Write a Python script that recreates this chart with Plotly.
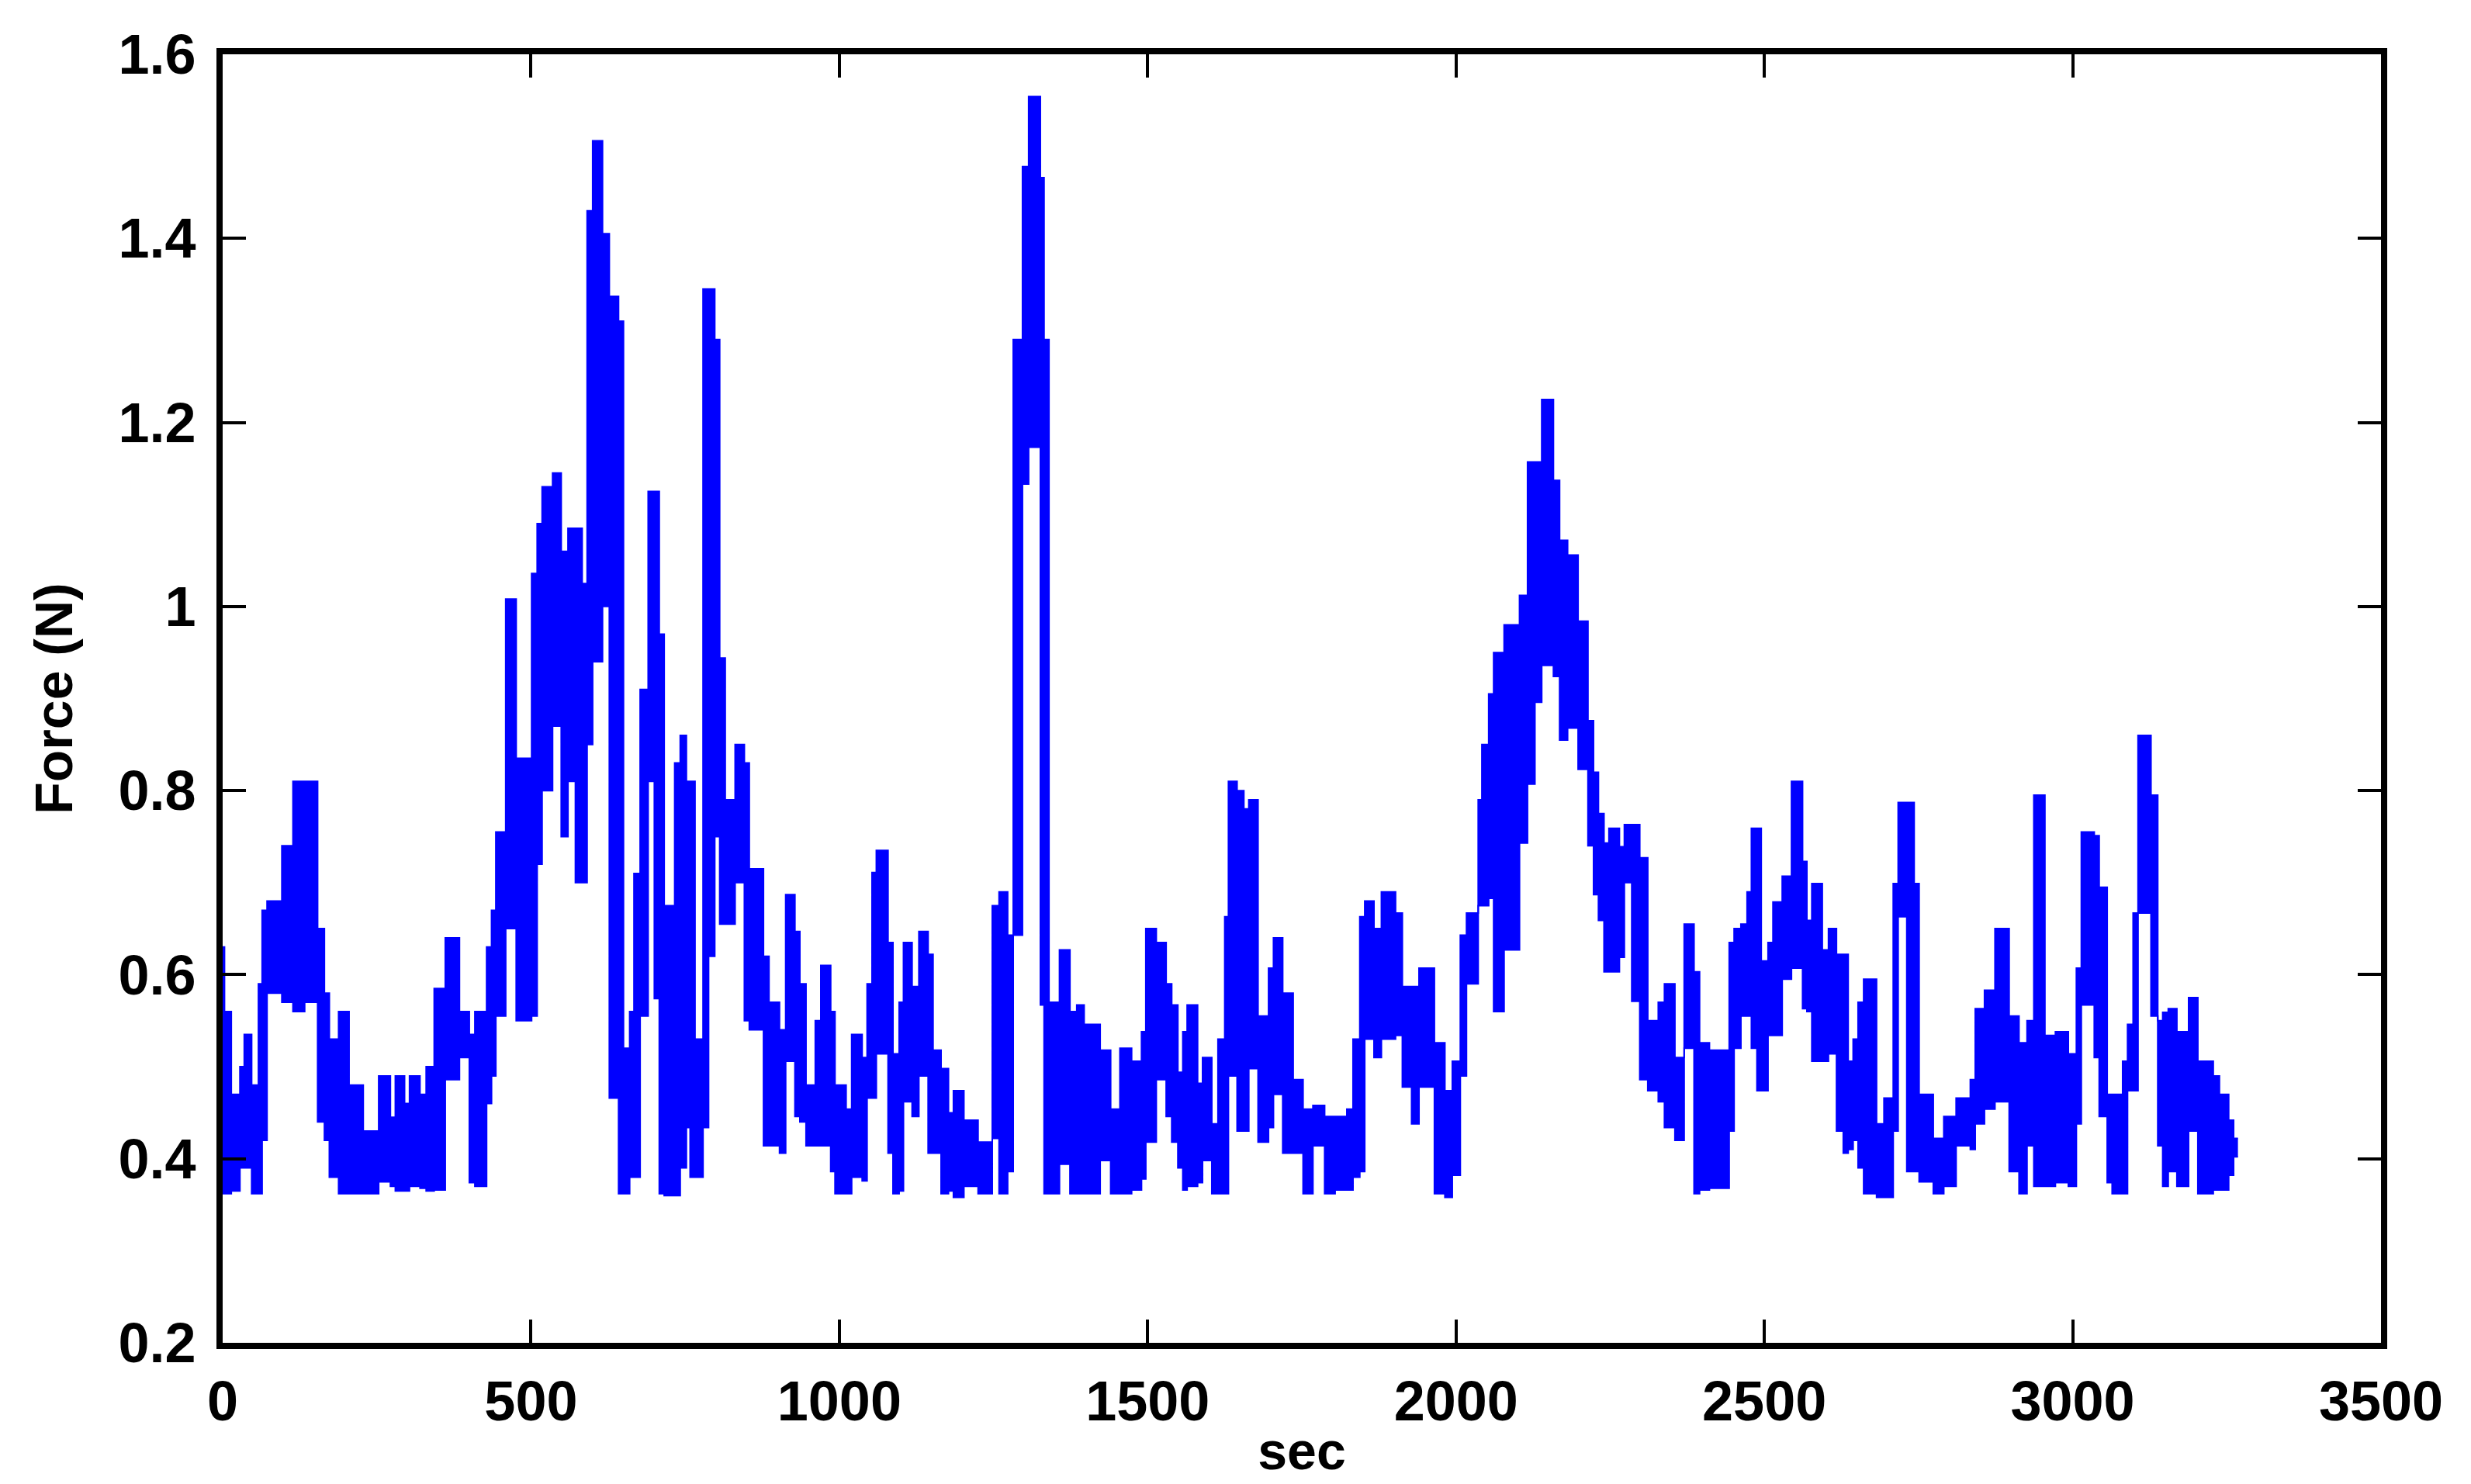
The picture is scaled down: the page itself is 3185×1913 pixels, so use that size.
import plotly.graph_objects as go

# ---- data (seconds, force envelope in N) ----
sec_start = [0, 3, 14, 28, 35, 47, 58, 64, 72, 96,
             114, 133, 154, 165, 173, 188, 205, 228, 253, 272,
             280, 295, 303, 320, 330, 343, 361, 384, 400, 409,
             428, 436, 443, 459, 476, 501, 510, 518, 535, 549,
             560, 572, 583, 591, 600, 616, 627, 642, 650, 660,
             667, 677, 690, 700, 708, 716, 733, 742, 752, 758,
             766, 779, 788, 798, 806, 815, 831, 846, 854, 877,
             886, 903, 913, 928, 936, 946, 961, 970, 986, 993,
             1011, 1020, 1037, 1045, 1053, 1060, 1079, 1087, 1097, 1104,
             1118, 1129, 1144, 1152, 1165, 1177, 1185, 1202, 1225, 1248,
             1259, 1273, 1282, 1297, 1307, 1326, 1332, 1340, 1357, 1374,
             1385, 1397, 1423, 1440, 1455, 1474, 1490, 1497, 1514, 1530,
             1539, 1549, 1557, 1564, 1581, 1589, 1604, 1614, 1625, 1631,
             1645, 1656, 1664, 1679, 1696, 1704, 1719, 1736, 1752, 1768,
             1787, 1804, 1823, 1833, 1844, 1852, 1867, 1879, 1902, 1913,
             1928, 1940, 1965, 1982, 1994, 2007, 2017, 2036, 2042, 2053,
             2061, 2078, 2103, 2116, 2128, 2139, 2158, 2168, 2181, 2198,
             2214, 2223, 2231, 2240, 2248, 2265, 2273, 2285, 2298, 2311,
             2328, 2338, 2355, 2370, 2386, 2395, 2411, 2443, 2451, 2462,
             2472, 2479, 2488, 2495, 2506, 2514, 2529, 2544, 2562, 2569,
             2577, 2594, 2604, 2617, 2628, 2636, 2644, 2652, 2661, 2682,
             2694, 2709, 2717, 2731, 2743, 2751, 2774, 2791, 2811, 2834,
             2842, 2857, 2874, 2897, 2913, 2926, 2937, 2955, 2972, 2993,
             3006, 3014, 3035, 3043, 3056, 3064, 3081, 3089, 3098, 3106,
             3127, 3138, 3146, 3155, 3169, 3188, 3203, 3228, 3238, 3253,
             3261, 3268]

force_hi = [0.63, 0.56, 0.47, 0.50, 0.535, 0.48, 0.59, 0.67, 0.68, 0.74,
            0.81, 0.81, 0.65, 0.58, 0.53, 0.56, 0.48, 0.43, 0.49, 0.445,
            0.49, 0.46, 0.49, 0.47, 0.50, 0.585, 0.64, 0.56, 0.535, 0.56,
            0.63, 0.67, 0.755, 1.008, 0.835, 1.036, 1.09, 1.13, 1.145, 1.06,
            1.085, 1.085, 1.025, 1.43, 1.506, 1.405, 1.337, 1.31, 0.52, 0.56,
            0.71, 0.91, 1.125, 1.125, 0.97, 0.675, 0.83, 0.86, 0.81, 0.81,
            0.53, 1.345, 1.345, 1.29, 0.944, 0.79, 0.85, 0.83, 0.715, 0.62,
            0.57, 0.54, 0.687, 0.647, 0.59, 0.48, 0.55, 0.61, 0.56, 0.48,
            0.454, 0.535, 0.51, 0.59, 0.711, 0.735, 0.635, 0.514, 0.57, 0.635,
            0.587, 0.647, 0.622, 0.518, 0.498, 0.45, 0.474, 0.442, 0.418, 0.675,
            0.69, 0.643, 1.29, 1.478, 1.554, 1.466, 1.29, 0.57, 0.627, 0.56,
            0.567, 0.546, 0.518, 0.454, 0.52, 0.506, 0.538, 0.65, 0.635, 0.59,
            0.567, 0.494, 0.538, 0.567, 0.482, 0.51, 0.438, 0.53, 0.663, 0.81,
            0.80, 0.78, 0.79, 0.555, 0.607, 0.64, 0.58, 0.486, 0.454, 0.458,
            0.446, 0.446, 0.454, 0.53, 0.663, 0.68, 0.65, 0.69, 0.667, 0.587,
            0.587, 0.607, 0.526, 0.474, 0.506, 0.643, 0.667, 0.79, 0.85, 0.905,
            0.95, 0.98, 1.012, 1.157, 1.157, 1.225, 1.137, 1.072, 1.056, 0.984,
            0.876, 0.82, 0.775, 0.743, 0.759, 0.739, 0.763, 0.763, 0.727, 0.55,
            0.57, 0.59, 0.51, 0.655, 0.603, 0.526, 0.518, 0.635, 0.65, 0.655,
            0.69, 0.759, 0.759, 0.615, 0.635, 0.679, 0.707, 0.81, 0.723, 0.659,
            0.699, 0.627, 0.65, 0.622, 0.622, 0.506, 0.53, 0.57, 0.595, 0.438,
            0.466, 0.699, 0.787, 0.787, 0.699, 0.47, 0.422, 0.446, 0.466, 0.486,
            0.563, 0.583, 0.65, 0.555, 0.526, 0.55, 0.795, 0.534, 0.538, 0.514,
            0.607, 0.755, 0.751, 0.695, 0.47, 0.47, 0.506, 0.546, 0.667, 0.86,
            0.795, 0.55, 0.559, 0.563, 0.538, 0.575, 0.506, 0.49, 0.47, 0.442,
            0.422, 0.422]

force_lo = [0.362, 0.362, 0.365, 0.39, 0.39, 0.362, 0.362, 0.42, 0.58, 0.57,
            0.56, 0.57, 0.44, 0.42, 0.38, 0.362, 0.362, 0.362, 0.375, 0.37,
            0.365, 0.365, 0.37, 0.368, 0.365, 0.366, 0.486, 0.51, 0.374, 0.37,
            0.46, 0.49, 0.555, 0.65, 0.55, 0.555, 0.72, 0.80, 0.87, 0.75,
            0.81, 0.70, 0.70, 0.85, 0.94, 1.0, 0.466, 0.362, 0.362, 0.38,
            0.38, 0.555, 0.81, 0.574, 0.362, 0.36, 0.36, 0.39, 0.434, 0.38,
            0.38, 0.434, 0.62, 0.75, 0.655, 0.655, 0.70, 0.55, 0.54, 0.414,
            0.414, 0.406, 0.506, 0.446, 0.44, 0.414, 0.414, 0.414, 0.386, 0.362,
            0.362, 0.38, 0.376, 0.466, 0.466, 0.514, 0.406, 0.362, 0.365, 0.462,
            0.446, 0.49, 0.406, 0.406, 0.362, 0.365, 0.358, 0.37, 0.362, 0.422,
            0.362, 0.386, 0.643, 1.133, 1.173, 0.567, 0.362, 0.362, 0.394, 0.362,
            0.362, 0.362, 0.398, 0.362, 0.362, 0.366, 0.378, 0.418, 0.486, 0.446,
            0.418, 0.39, 0.366, 0.37, 0.374, 0.398, 0.362, 0.362, 0.362, 0.49,
            0.43, 0.43, 0.498, 0.418, 0.434, 0.47, 0.406, 0.406, 0.362, 0.414,
            0.362, 0.366, 0.366, 0.38, 0.386, 0.53, 0.51, 0.53, 0.534, 0.478,
            0.438, 0.478, 0.362, 0.358, 0.382, 0.49, 0.59, 0.675, 0.675, 0.683,
            0.56, 0.627, 0.743, 0.807, 0.896, 0.936, 0.924, 0.855, 0.868, 0.823,
            0.74, 0.687, 0.659, 0.603, 0.603, 0.619, 0.70, 0.571, 0.486, 0.474,
            0.462, 0.434, 0.42, 0.52, 0.362, 0.366, 0.368, 0.43, 0.52, 0.555,
            0.555, 0.52, 0.474, 0.474, 0.534, 0.534, 0.595, 0.607, 0.563, 0.56,
            0.506, 0.506, 0.514, 0.43, 0.406, 0.41, 0.42, 0.39, 0.362, 0.358,
            0.358, 0.43, 0.663, 0.386, 0.386, 0.375, 0.362, 0.37, 0.414, 0.41,
            0.438, 0.454, 0.462, 0.386, 0.362, 0.414, 0.37, 0.37, 0.374, 0.37,
            0.438, 0.567, 0.51, 0.446, 0.374, 0.362, 0.362, 0.474, 0.474, 0.667,
            0.555, 0.414, 0.37, 0.386, 0.37, 0.43, 0.362, 0.366, 0.366, 0.382,
            0.402, 0.402]

x_ticks = [0, 500, 1000, 1500, 2000, 2500, 3000, 3500]
x_tick_labels = ["0", "500", "1000", "1500", "2000", "2500", "3000", "3500"]
y_ticks = [0.2, 0.4, 0.6, 0.8, 1.0, 1.2, 1.4, 1.6]
y_tick_labels = ["0.2", "0.4", "0.6", "0.8", "1", "1.2", "1.4", "1.6"]

assert len(sec_start) == len(force_hi) == len(force_lo)

BLUE = "#0000FF"
FONT = "Arial, 'Liberation Sans', Helvetica, sans-serif"

fig = go.Figure()
fig.add_trace(go.Scatter(x=sec_start, y=force_lo, mode="lines",
                         line=dict(color=BLUE, width=2, shape="hv"),
                         showlegend=False, hoverinfo="skip"))
fig.add_trace(go.Scatter(x=sec_start, y=force_hi, mode="lines",
                         line=dict(color=BLUE, width=2, shape="hv"),
                         fill="tonexty", fillcolor=BLUE,
                         showlegend=False, name="Force"))

axis_common = dict(showgrid=False, zeroline=False, showline=True,
                   linecolor="black", linewidth=8, mirror="ticks",
                   ticks="inside", ticklen=30, tickwidth=4, tickcolor="black",
                   tickfont=dict(family=FONT, size=72, color="black", weight="bold"))

fig.update_layout(
    width=3185, height=1913,
    margin=dict(l=279, r=124, t=62, b=190),
    paper_bgcolor="white", plot_bgcolor="white",
    xaxis=dict(range=[0, 3500], tickmode="array", tickvals=x_ticks,
               ticktext=x_tick_labels, ticklabelstandoff=6,
               title=dict(text="sec", standoff=4,
                          font=dict(family=FONT, size=68, color="black", weight="bold")),
               **axis_common),
    yaxis=dict(range=[0.2, 1.6], tickmode="array", tickvals=y_ticks,
               ticktext=y_tick_labels, ticklabelstandoff=12,
               title=dict(text="Force (N)", standoff=40,
                          font=dict(family=FONT, size=68, color="black", weight="bold")),
               **axis_common),
)

fig.write_html("out.html")
